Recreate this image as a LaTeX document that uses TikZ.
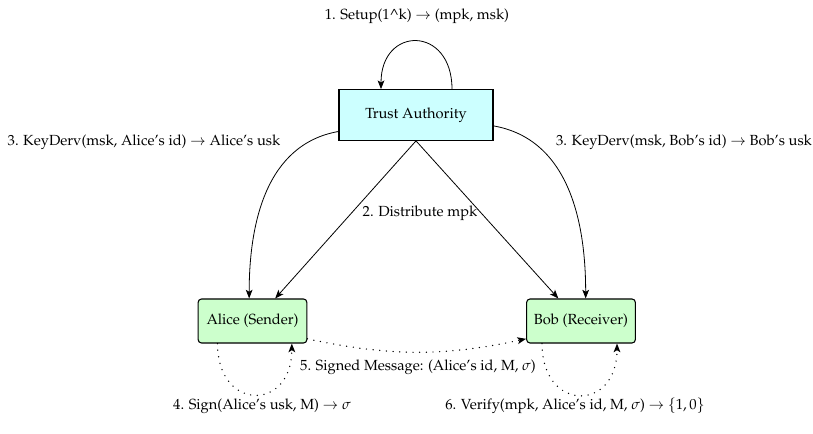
\documentclass[tikz,border=0pt]{standalone}
\usepackage[T1]{fontenc}
\usepackage{mathpazo}
\usepackage{amsmath, amssymb}
\usepackage{xcolor}
\usepackage{tikz}
\usetikzlibrary{calc, arrows.meta}

\definecolor{taFill}{HTML}{CCFFFF}
\definecolor{userFill}{HTML}{CCFFCC}

\tikzset{
	authority/.style = {draw, thick, fill = taFill, minimum width = 115.5pt, minimum height = 38pt, inner sep = 0pt},
	user/.style = {draw, thick, fill = userFill, rounded corners = 2.5pt, minimum width = 81.5pt, minimum height = 33pt, inner sep = 0pt},
	msg/.style = {line width = 1.1pt, dash pattern = on 0pt off 5pt, line cap = round}
}

\begin{document}
\begin{tikzpicture}[x = 0.75pt, y = -0.75pt, semithick, >={Stealth[length=6.5pt, width=5pt, inset=1.5pt]}, font = \fontsize{11}{13}\selectfont]
			\useasboundingbox (0,0) rectangle (813,434);

			\node [authority] (ta) at (416,115) {Trust Authority};
			\node [user] (alice) at (252.5,321) {Alice (Sender)};
			\node [user] (bob) at (581,321) {Bob (Receiver)};

			\begin{scope}
				\node (setup) at (417,16) {1. Setup(1\textasciicircum k) $\rightarrow$ (mpk, msk)};
				\node (derivA) at (144,142) {3. KeyDerv(msk, Alice's id) $\rightarrow$ Alice's usk};
				\node (derivB) at (684,142) {3. KeyDerv(msk, Bob's id) $\rightarrow$ Bob's usk};
				\node (distr) at (420,213) {2. Distribute mpk};
				\node (signed) at (418,367) {5. Signed Message: (Alice's id, M, $\sigma$)};
				\node (sign) at (262,406) {4. Sign(Alice's usk, M) $\rightarrow$ $\sigma$};
				\node (verify) at (575,406) {6. Verify(mpk, Alice's id, M, $\sigma$) $\rightarrow$ $\{1, 0\}$};
			\end{scope}

			\begin{scope}[->]
				\draw ([xshift = 27pt]ta.north) to [out = 90, in = 90, looseness = 2.3] ([xshift = -26.25pt]ta.north);
				\draw (ta.192) to [out = 190, in = 90] ([xshift = -2.5pt]alice.north);
				\draw (ta.-8) to [out = -10, in = 90] ([xshift = 3.5pt]bob.north);
				\draw (ta.south) -- ([xshift = 17pt]alice.north);
				\draw (ta.south) -- ([xshift = -17pt]bob.north);
			\end{scope}

			\begin{scope}[->, msg]
				\draw (alice.-18) to [bend right = 12] (bob.198);
				\draw ([xshift = -26.25pt]alice.south) to [out = -90, in = -90, looseness = 2.35] ([xshift = 29.5pt]alice.south);
				\draw ([xshift = -29.25pt]bob.south) to [out = -90, in = -90, looseness = 2.35] ([xshift = 27pt]bob.south);
			\end{scope}
		\end{tikzpicture}
\end{document}
